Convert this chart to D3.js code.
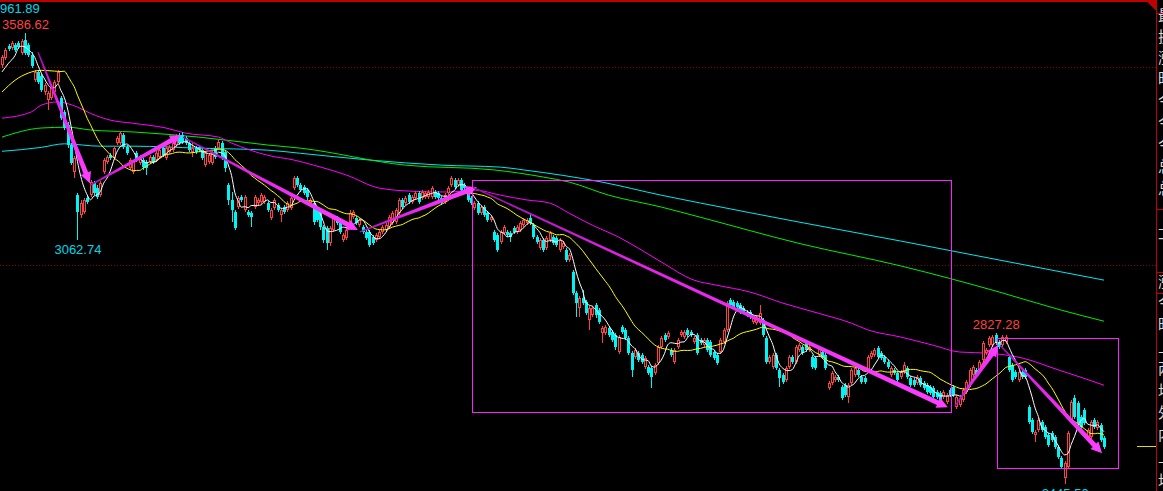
<!DOCTYPE html>
<html><head><meta charset="utf-8">
<script src="https://cdn.jsdelivr.net/npm/d3@7"></script>
<style>html,body{margin:0;padding:0;background:#000;overflow:hidden}svg{display:block}</style>
</head><body>
<svg id="c" width="1163" height="491"></svg>
<script>
// ---- data: daily candles [open, high, low, close] ----
const candles = [
[3505,3530,3498,3525],[3523,3549,3518,3543],[3554,3559,3540,3545],[3549,3566,3543,3561],[3556,3561,3538,3543],
[3561,3566,3545,3551],[3535,3571,3530,3566],[3569,3586.62,3530,3535],[3556,3561,3525,3530],[3530,3538,3498,3503],
[3468,3493,3462,3488],[3488,3493,3457,3462],[3478,3483,3437,3442],[3437,3459,3429,3454],[3417,3439,3392,3434],
[3422,3452,3417,3447],[3437,3468,3432,3462],[3462,3493,3457,3488],[3422,3427,3366,3371],[3387,3392,3341,3346],
[3353,3361,3295,3303],[3303,3308,3252,3257],[3235,3275,3219,3270],[3176,3181,3062.74,3133],[3125,3164,3118,3156],
[3133,3169,3128,3164],[3169,3174,3154,3159],[3176,3214,3171,3209],[3206,3211,3176,3181],[3194,3201,3166,3171],
[3176,3211,3171,3206],[3235,3270,3230,3265],[3260,3277,3255,3272],[3277,3282,3265,3270],[3270,3300,3265,3295],
[3308,3326,3303,3321],[3308,3338,3303,3333],[3328,3333,3292,3297],[3297,3303,3277,3282],[3245,3270,3240,3265],
[3235,3265,3230,3260],[3282,3287,3260,3265],[3257,3277,3252,3272],[3265,3270,3240,3247],[3260,3265,3227,3245],
[3260,3277,3255,3272],[3272,3277,3255,3260],[3265,3287,3260,3282],[3272,3295,3267,3290],[3295,3300,3272,3277],
[3270,3300,3265,3295],[3285,3303,3280,3297],[3290,3313,3285,3308],[3303,3331,3297,3323],[3328,3333,3303,3308],
[3328,3336,3306,3311],[3321,3326,3303,3308],[3308,3313,3285,3290],[3285,3308,3272,3295],[3295,3300,3280,3285],
[3297,3303,3285,3290],[3290,3295,3265,3270],[3252,3287,3247,3282],[3260,3282,3255,3277],[3257,3287,3252,3282],
[3295,3300,3267,3272],[3295,3316,3290,3311],[3308,3313,3265,3270],[3285,3290,3235,3245],[3201,3206,3151,3164],
[3164,3184,3108,3138],[3133,3138,3088,3093],[3146,3174,3141,3169],[3171,3176,3159,3164],[3138,3176,3133,3171],
[3133,3138,3120,3125],[3130,3135,3095,3120],[3146,3176,3141,3171],[3156,3169,3151,3164],[3159,3181,3154,3176],
[3159,3176,3154,3171],[3156,3161,3133,3138],[3118,3144,3113,3138],[3144,3169,3138,3164],[3151,3156,3133,3138],
[3125,3144,3108,3138],[3146,3151,3128,3133],[3138,3161,3133,3156],[3144,3174,3138,3169],[3194,3224,3189,3219],
[3219,3224,3196,3201],[3201,3206,3184,3189],[3196,3201,3176,3181],[3189,3194,3164,3171],[3156,3169,3151,3164],
[3156,3161,3100,3108],[3138,3144,3108,3113],[3130,3135,3088,3095],[3095,3100,3054,3063],[3093,3098,3037,3054],
[3054,3098,3047,3093],[3088,3125,3083,3120],[3118,3123,3100,3105],[3105,3110,3078,3083],[3063,3080,3057,3075],
[3068,3093,3063,3088],[3108,3138,3103,3130],[3120,3138,3115,3133],[3118,3123,3100,3105],[3100,3118,3095,3113],
[3095,3100,3078,3083],[3083,3088,3063,3068],[3083,3088,3044,3049],[3070,3075,3049,3054],[3063,3080,3057,3075],
[3070,3088,3065,3083],[3083,3100,3078,3095],[3088,3105,3083,3100],[3095,3125,3090,3120],[3105,3135,3100,3130],
[3108,3144,3103,3138],[3130,3169,3125,3164],[3164,3169,3141,3146],[3156,3174,3151,3169],[3176,3181,3154,3159],
[3159,3176,3154,3171],[3169,3186,3164,3181],[3181,3186,3154,3159],[3169,3189,3164,3184],[3171,3186,3166,3181],
[3171,3189,3166,3184],[3171,3199,3166,3194],[3184,3189,3166,3171],[3181,3186,3164,3169],[3169,3174,3151,3156],
[3159,3181,3154,3176],[3181,3199,3176,3194],[3201,3224,3196,3219],[3214,3219,3191,3196],[3201,3219,3196,3214],
[3214,3219,3184,3189],[3201,3206,3189,3194],[3181,3186,3159,3164],[3169,3174,3151,3156],[3144,3161,3138,3156],
[3156,3161,3125,3130],[3130,3151,3125,3146],[3146,3151,3120,3125],[3130,3135,3108,3113],[3113,3125,3108,3120],
[3083,3088,3057,3063],[3075,3080,3032,3037],[3057,3088,3052,3083],[3080,3100,3075,3095],[3083,3088,3070,3075],
[3080,3085,3057,3070],[3093,3098,3078,3083],[3083,3100,3078,3095],[3088,3110,3083,3105],[3100,3118,3095,3113],
[3105,3118,3100,3113],[3118,3130,3100,3105],[3100,3105,3065,3070],[3070,3075,3052,3057],[3042,3068,3037,3063],
[3063,3068,3032,3037],[3042,3073,3037,3068],[3063,3085,3057,3080],[3070,3075,3049,3054],[3068,3073,3044,3049],
[3037,3068,3032,3063],[3044,3060,3039,3054],[3037,3042,3007,3012],[3012,3029,3007,3024],[2982,2987,2923,2928],
[2928,2933,2867,2903],[2890,2921,2867,2916],[2916,2936,2898,2903],[2906,2911,2872,2877],[2860,2896,2835,2890],
[2872,2896,2867,2890],[2898,2903,2865,2872],[2885,2890,2850,2855],[2827,2845,2801,2840],[2827,2847,2822,2842],
[2840,2845,2817,2822],[2830,2835,2804,2809],[2822,2827,2784,2791],[2779,2822,2774,2817],[2842,2847,2825,2830],
[2835,2840,2809,2815],[2815,2820,2771,2776],[2776,2781,2715,2734],[2766,2789,2761,2784],[2776,2781,2754,2759],
[2771,2776,2749,2754],[2741,2769,2736,2764],[2741,2746,2720,2725],[2739,2744,2688,2715],[2725,2751,2720,2746],
[2751,2796,2746,2791],[2791,2820,2786,2815],[2822,2827,2804,2809],[2817,2832,2811,2827],[2784,2789,2766,2771],
[2754,2789,2749,2784],[2791,2815,2786,2809],[2822,2835,2817,2830],[2817,2835,2811,2830],[2835,2840,2817,2822],
[2830,2835,2817,2822],[2804,2820,2799,2815],[2822,2827,2771,2776],[2809,2815,2796,2801],[2796,2815,2791,2809],
[2809,2815,2779,2784],[2804,2809,2766,2771],[2779,2784,2759,2764],[2771,2776,2746,2751],[2779,2815,2774,2809],
[2804,2840,2799,2835],[2835,2908,2830,2903],[2911,2916,2892,2898],[2906,2911,2887,2892],[2903,2908,2887,2892],
[2898,2903,2875,2880],[2890,2896,2875,2880],[2880,2885,2867,2872],[2880,2885,2862,2867],[2855,2872,2850,2867],
[2852,2872,2847,2867],[2852,2898,2847,2877],[2860,2865,2817,2822],[2815,2820,2749,2754],[2754,2771,2749,2766],
[2741,2776,2736,2771],[2771,2776,2734,2739],[2734,2739,2690,2713],[2720,2725,2698,2703],[2708,2744,2703,2739],
[2741,2771,2736,2766],[2766,2771,2749,2754],[2754,2796,2749,2791],[2784,2801,2779,2796],[2791,2796,2771,2776],
[2801,2806,2779,2784],[2784,2796,2779,2791],[2766,2771,2736,2741],[2764,2769,2734,2739],[2771,2794,2766,2789],
[2779,2784,2761,2766],[2771,2776,2734,2739],[2688,2705,2683,2700],[2700,2730,2695,2725],[2708,2720,2703,2715],
[2715,2720,2703,2708],[2690,2695,2658,2663],[2695,2700,2665,2670],[2665,2700,2650,2695],[2700,2739,2695,2734],
[2720,2744,2715,2739],[2734,2739,2715,2720],[2715,2720,2698,2703],[2713,2718,2698,2703],[2734,2771,2728,2766],
[2766,2781,2761,2776],[2771,2789,2766,2784],[2789,2794,2761,2766],[2776,2781,2759,2764],[2766,2771,2749,2754],
[2754,2759,2736,2741],[2720,2744,2715,2739],[2734,2739,2720,2725],[2725,2730,2703,2708],[2715,2734,2710,2728],
[2728,2754,2723,2746],[2739,2744,2710,2715],[2713,2718,2690,2695],[2708,2713,2690,2695],[2700,2720,2695,2715],
[2713,2718,2690,2695],[2700,2705,2683,2688],[2695,2700,2673,2678],[2690,2695,2670,2675],[2688,2693,2660,2665],
[2678,2683,2660,2665],[2675,2680,2653,2658],[2665,2683,2660,2678],[2653,2675,2647,2670],[2683,2688,2665,2670],
[2690,2695,2665,2670],[2639,2670,2634,2665],[2644,2668,2639,2663],[2658,2688,2653,2683],[2678,2708,2673,2703],
[2695,2739,2690,2734],[2720,2746,2715,2741],[2734,2739,2715,2720],[2734,2759,2728,2754],[2759,2806,2754,2801],
[2776,2789,2771,2784],[2796,2820,2791,2815],[2796,2822,2791,2817],[2822,2827.28,2796,2801],[2804,2809,2786,2791],
[2796,2822,2791,2817],[2804,2822,2799,2817],[2766,2771,2728,2734],[2746,2751,2703,2708],[2728,2734,2710,2715],
[2708,2734,2703,2728],[2728,2734,2710,2715],[2734,2739,2710,2715],[2639,2644,2597,2602],[2607,2612,2572,2577],
[2569,2582,2551,2577],[2582,2612,2577,2607],[2602,2607,2577,2582],[2589,2594,2558,2563],[2569,2574,2538,2543],
[2574,2579,2551,2556],[2563,2569,2533,2538],[2538,2543,2508,2513],[2511,2516,2482,2488],[2460,2503,2445.5,2498],
[2488,2579,2482,2574],[2607,2658,2602,2653],[2663,2670,2609,2614],[2650,2655,2594,2599],[2614,2619,2584,2589],
[2632,2637,2594,2599],[2563,2587,2558,2582],[2563,2607,2558,2602],[2607,2612,2584,2589],[2587,2607,2582,2602],
[2594,2599,2551,2556],[2561,2566,2533,2538]
];
// opening stretch of the short averages (history before the first candle): [index, value]
const ma5Lead = [[0,3488],[2,3510],[4,3530]];
const ma20Lead = [[0,3437],[4,3467],[8,3485],[12,3492],[16,3490],[18,3489]];
// long moving averages: [candle index, value]
const ma60 = [[0,3371],[9,3387],[12,3404],[17,3412],[23,3399],[27,3383],[33,3366],[40,3358],[50,3346],[56,3333],
[66,3323],[70,3308],[81,3277],[89,3265],[95,3252],[105,3227],[115,3194],[125,3186],[136,3184],[144,3189],[152,3176],
[160,3164],[167,3156],[173,3130],[180,3100],[188,3070],[195,3037],[201,3007],[211,2961],[218,2948],[228,2931],
[238,2903],[249,2877],[259,2852],[264,2835],[274,2817],[284,2796],[292,2779],[301,2776],[311,2764],[322,2734],
[329,2715],[336,2695]];
const ma120 = [[0,3323],[12,3346],[20,3348],[27,3341],[40,3336],[60,3323],[81,3303],[91,3295],[123,3252],[150,3240],
[165,3222],[173,3209],[185,3176],[201,3146],[213,3120],[243,3054],[274,2997],[304,2931],[323,2885],[336,2857]];
const ma250 = [[0,3287],[12,3297],[19,3306],[30,3300],[40,3300],[60,3295],[81,3290],[91,3282],[112,3265],[134,3252],
[152,3247],[159,3240],[183,3209],[201,3176],[213,3156],[243,3108],[274,3060],[304,3012],[336,2961]];
// annotation arrows [fromIndex, fromValue, toIndex, toValue]
const arrows = [[11,3538,26.8,3206],[26.8,3201,54.6,3328],[55.2,3323,108.5,3088],[109.1,3083,144.8,3196],
[143.6,3196,288.4,2639],[290.5,2642,303.7,2796],[304.3,2796,335.4,2523]];
// annotation boxes [fromIndex, topValue, toIndex, bottomValue]
const boxes = [[143.3,3214,289.3,2627],[303.4,2815,340.2,2485]];
const gridLevels = [3500, 3000];
const extremeLabels = [
  {i:7, v:3586.62, text:"3586.62", kind:"high"},
  {i:23, v:3062.74, text:"3062.74", kind:"low"},
  {i:303, v:2827.28, text:"2827.28", kind:"high"},
  {i:324, v:2445.5, text:"2445.50", kind:"low"}
];
const topText = "961.89";
const panelChars = ['最','换','涨','昨','今','今','今','总','总','上','下','涨','今','昨','上','两','均','外','内','上','均'];

// ---- drawing ----
const W = 1163, H = 491;
const RED = '#ff4040', CYAN = '#00f4f4';
const svg = d3.select('#c');
svg.append('rect').attr('width',W).attr('height',H).attr('fill','#000');
const N = candles.length;
const x = d3.scaleLinear().domain([0, N-1]).range([2, 1104]);
const y = d3.scaleLinear().domain([3670, 2427.3]).range([0, H]);

// grid
const grid = svg.append('g');
gridLevels.forEach(v=>{
  grid.append('line').attr('x1',0).attr('x2',1156).attr('y1',Math.round(y(v))+0.5).attr('y2',Math.round(y(v))+0.5)
    .attr('stroke','#8c0000').attr('stroke-dasharray','1,2');
});

// long MAs
const lineS = d3.line().x(d=>x(d[0])).y(d=>y(d[1])).curve(d3.curveMonotoneX);
[[ma250,'#00e8f0'],[ma120,'#00ee00'],[ma60,'#ff00ff']].forEach(([pts,col])=>{
  svg.append('path').attr('d',lineS(pts)).attr('fill','none').attr('stroke',col).attr('stroke-width',1);
});

// candles
const closes = candles.map(d=>d[3]);
const cg = svg.append('g').attr('shape-rendering','crispEdges');
candles.forEach((d,i)=>{
  const [o,h,l,c] = d;
  const cx = Math.round(x(i));
  const up = c >= o;
  const top = Math.round(y(Math.max(o,c))), bot = Math.round(y(Math.min(o,c)));
  const yh = Math.round(y(h)), yl = Math.round(y(l));
  const col = up ? RED : CYAN;
  cg.append('rect').attr('x',cx).attr('y',yh).attr('width',1).attr('height',Math.max(1,yl-yh)).attr('fill',col);
  const bh = Math.max(1, bot-top);
  cg.append('rect').attr('x',cx-1).attr('y',top).attr('width',3).attr('height',bh).attr('fill',col);
  if (up && bh>2) cg.append('rect').attr('x',cx).attr('y',top+1).attr('width',1).attr('height',bh-2).attr('fill','#000');
});

function maPts(n, lead){
  const pts = lead.map(p=>[x(p[0]), y(p[1])]);
  for (let i=n-1;i<N;i++){
    if (i <= lead[lead.length-1][0]) continue;
    pts.push([x(i), y(d3.mean(closes.slice(i-n+1, i+1)))]);
  }
  return pts;
}
const lineP = d3.line().curve(d3.curveMonotoneX);
svg.append('path').attr('d',lineP(maPts(20, ma20Lead))).attr('fill','none').attr('stroke','#ffff00').attr('stroke-width',1);
svg.append('path').attr('d',lineP(maPts(5, ma5Lead))).attr('fill','none').attr('stroke','#ffffff').attr('stroke-width',1);

// boxes
boxes.forEach(b=>{
  const x0=Math.round(x(b[0]))+0.5, x1=Math.round(x(b[2]))+0.5, y0=Math.round(y(b[1]))+0.5, y1=Math.round(y(b[3]))+0.5;
  svg.append('rect').attr('x',x0).attr('y',y0).attr('width',x1-x0).attr('height',y1-y0)
    .attr('fill','none').attr('stroke','#ff20ff').attr('stroke-width',1);
});

// arrows
const defs = svg.append('defs');
arrows.forEach((a,k)=>{
  const p0=[x(a[0]),y(a[1])], p1=[x(a[2]),y(a[3])];
  const dx=p1[0]-p0[0], dy=p1[1]-p0[1], L=Math.hypot(dx,dy);
  const u=[dx/L,dy/L], n=[-u[1],u[0]];
  const hl=11, hw=5.5, w0=0.7, w1=2.5;
  const b=[p1[0]-u[0]*hl, p1[1]-u[1]*hl];
  const pts=[
    [p0[0]+n[0]*w0,p0[1]+n[1]*w0],[b[0]+n[0]*w1,b[1]+n[1]*w1],[b[0]+n[0]*hw,b[1]+n[1]*hw],p1,
    [b[0]-n[0]*hw,b[1]-n[1]*hw],[b[0]-n[0]*w1,b[1]-n[1]*w1],[p0[0]-n[0]*w0,p0[1]-n[1]*w0]];
  const gid='ag'+k;
  const gr=defs.append('linearGradient').attr('id',gid).attr('gradientUnits','userSpaceOnUse')
    .attr('x1',p0[0]).attr('y1',p0[1]).attr('x2',p1[0]).attr('y2',p1[1]);
  gr.append('stop').attr('offset',0).attr('stop-color','#9a10b0');
  gr.append('stop').attr('offset',0.3).attr('stop-color','#e020e8');
  gr.append('stop').attr('offset',1).attr('stop-color','#ff40ff');
  svg.append('path').attr('d','M'+pts.map(p=>p.join(',')).join('L')+'Z').attr('fill',`url(#${gid})`);
});

// labels
const FONT = '"Liberation Sans", Arial, sans-serif';
extremeLabels.forEach(l=>{
  const cx = x(l.i);
  const yy = l.kind==='high' ? y(l.v)-4 : y(l.v)+14;
  svg.append('text').attr('x',Math.max(0,cx-23)).attr('y',yy).text(l.text)
    .attr('fill', l.kind==='high'?'#ff4040':'#00d8e8').attr('font-family',FONT).attr('font-size',13);
});
svg.append('text').attr('x',0).attr('y',13).text(topText).attr('fill','#00d8e8').attr('font-family',FONT).attr('font-size',13);

// frame / right panel
const fr = svg.append('g').attr('shape-rendering','crispEdges');
fr.append('rect').attr('x',0).attr('y',0).attr('width',1157).attr('height',2).attr('fill','#c00000');
fr.append('path').attr('d','M1145,0L1157,0L1157,12Z').attr('fill','#c00000');
fr.append('rect').attr('x',1156).attr('y',0).attr('width',1).attr('height',H).attr('fill','#c00000');
[13,209,272,293].forEach(v=>fr.append('rect').attr('x',1156).attr('y',v).attr('width',7).attr('height',1).attr('fill','#c00000'));
fr.append('rect').attr('x',1137).attr('y',446).attr('width',19).attr('height',1).attr('fill','#e0e000');
const charY = [21,42,63,84,106,128,150,172,194,229,250,287,308,330,352,374,396,418,440,462,486];
charY.forEach((cy,k)=>svg.append('text').attr('x',1158).attr('y',cy).text(panelChars[k])
  .attr('fill','#d8d8d8').attr('font-family','"Noto Sans CJK SC"').attr('font-size',15));
</script>
</body></html>
